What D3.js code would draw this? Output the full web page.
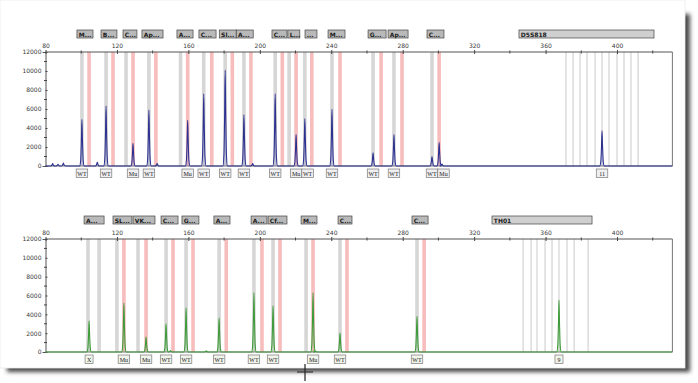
<!DOCTYPE html>
<html>
<head>
<meta charset="utf-8">
<script src="https://cdn.jsdelivr.net/npm/d3@7"></script>
<style>
  body { margin: 0; background: #fff; }
  svg { display: block; }
</style>
</head>
<body>
<svg id="chart"></svg>
<script>
// ---- data: top panel (blue dye) ----
const topGrayBins = [100.4, 113.9, 125.1, 137.9, 155.6, 168.6, 180.6, 191.1, 208.6, 216.4, 225.2, 240.4, 263.4, 275.1, 296.4];
const topPinkBins = [104.4, 117.8, 129.0, 141.8, 159.6, 173.1, 184.6, 195.0, 212.6, 220.3, 229.1, 244.9, 267.9, 279.6, 300.4];
const topLadder = [371.4, 375.4, 379.3, 383.2, 387.7, 391.6, 395.5, 400.0, 403.9, 407.8, 411.8];
const topPeakPos = [100.4, 113.9, 129.0, 137.9, 159.6, 168.6, 180.6, 191.1, 208.6, 220.3, 225.2, 240.4, 263.4, 275.1, 296.4, 300.4, 391.6];
const topPeakHeight = [4900, 6300, 2400, 5900, 4800, 7600, 10100, 5400, 7600, 3300, 5000, 6000, 1400, 3300, 1000, 2500, 3700];
const topPeakLabel = ["WT", "WT", "Mu", "WT", "Mu", "WT", "WT", "WT", "WT", "Mu", "WT", "WT", "WT", "WT", "WT", "Mu", "11"];
const topNoisePos = [84, 87, 90, 109, 142.5, 196, 302];
const topNoiseHeight = [250, 180, 300, 400, 250, 250, 200];
const topHeadStart = [97.6, 111.1, 123.4, 134.0, 153.6, 165.9, 177.3, 186.8, 206.8, 215.7, 225.3, 238.2, 260.6, 271.8, 293.6, 345.1];
const topHeadEnd = [106.6, 120.0, 131.2, 145.8, 162.6, 175.5, 186.8, 196.3, 215.2, 222.4, 232.0, 247.7, 270.7, 283.0, 303.1, 420.7];
const topHeadText = ["M...", "B...", "C...", "Ap...", "A...", "C...", "Sl...", "A...", "C...", "L...", "...", "M...", "G...", "Ap...", "C...", "D5S818"];

// ---- data: bottom panel (green dye) ----
const botGrayBins = [103.8, 110.0, 120.0, 131.8, 147.5, 158.7, 177.2, 196.7, 207.4, 225.9, 244.9, 288.0];
const botPinkBins = [123.9, 136.3, 151.4, 162.6, 181.2, 201.2, 211.3, 229.8, 248.8, 292.0];
const botLadder = [347.4, 351.9, 355.2, 359.7, 363.6, 367.5, 372.0, 376.0, 383.8];
const botPeakPos = [104.4, 123.9, 136.3, 147.5, 158.7, 177.2, 196.7, 207.4, 229.8, 244.9, 288.0, 367.5];
const botPeakHeight = [3300, 5200, 1600, 3000, 4700, 3600, 6300, 4900, 6300, 2000, 3800, 5500];
const botPeakLabel = ["X", "Mu", "Mu", "WT", "WT", "WT", "WT", "WT", "Mu", "WT", "WT", "9"];
const botNoisePos = [150, 170, 231];
const botNoiseHeight = [150, 120, 150];
const botHeadStart = [101.6, 117.8, 129.0, 144.7, 156.4, 174.3, 195.1, 204.6, 223.1, 243.8, 285.2, 330.0];
const botHeadEnd = [112.8, 128.4, 141.3, 154.2, 165.9, 183.3, 204.0, 215.2, 232.0, 251.6, 294.2, 386.0];
const botHeadText = ["A...", "SL...", "VK...", "C...", "G...", "A...", "A...", "Cf...", "M...", "C...", "C...", "TH01"];

const xTicks = [80, 120, 160, 200, 240, 280, 320, 360, 400];
const yTicks = [0, 2000, 4000, 6000, 8000, 10000, 12000];

const W = 698, H = 383;
const svg = d3.select("#chart").attr("width", W).attr("height", H);

// paper + drop shadow
const defs = svg.append("defs");
defs.append("filter").attr("id", "shadow").attr("x", "-5%").attr("y", "-5%").attr("width", "110%").attr("height", "110%")
  .append("feGaussianBlur").attr("stdDeviation", 2.2);
svg.append("rect").attr("width", W).attr("height", H).attr("fill", "#fff");
svg.append("rect").attr("x", 7).attr("y", 14).attr("width", 683).attr("height", 358)
  .attr("fill", "#4a4a4a").attr("filter", "url(#shadow)");
svg.append("rect").attr("x", 0).attr("y", 0).attr("width", 685).attr("height", 368)
  .attr("fill", "#fff").attr("stroke", "#ececec").attr("stroke-width", 0.8);

const x = d3.scaleLinear().domain([80, 431]).range([45.5, 672.4]);
const FONT = "DejaVu Sans, sans-serif";

function drawPanel(opt) {
  const y = d3.scaleLinear().domain([0, 12000]).range([opt.y0, opt.y1]);
  const g = svg.append("g");
  const bw = 3.6;

  // bins
  g.selectAll(".gbin").data(opt.gray).enter().append("rect")
    .attr("x", d => x(d) - bw / 2).attr("y", opt.y1).attr("width", bw).attr("height", opt.y0 - opt.y1)
    .attr("fill", "#d6d6d6");
  g.selectAll(".pbin").data(opt.pink).enter().append("rect")
    .attr("x", d => x(d) - bw / 2).attr("y", opt.y1).attr("width", bw).attr("height", opt.y0 - opt.y1)
    .attr("fill", "#f7bcbc");
  g.selectAll(".ladder").data(opt.ladder).enter().append("line")
    .attr("x1", d => x(d)).attr("x2", d => x(d)).attr("y1", opt.y1).attr("y2", opt.y0)
    .attr("stroke", "#d9d9d9").attr("stroke-width", 1.4);

  // header boxes
  opt.headStart.forEach((s, i) => {
    const wide = !opt.headText[i].endsWith("...");
    g.append("rect").attr("x", x(s)).attr("y", opt.hy).attr("width", x(opt.headEnd[i]) - x(s)).attr("height", 8)
      .attr("fill", wide ? "#cfcfcf" : "#b9b9b9").attr("stroke", "#444").attr("stroke-width", 0.7);
    g.append("text").attr("x", x(s) + 1.8).attr("y", opt.hy + 6.6)
      .attr("font-family", FONT).attr("font-size", 6).attr("font-weight", "bold")
      .attr("fill", "#1a1a1a").text(opt.headText[i]);
  });

  // top axis
  const ax = g.append("g").attr("transform", `translate(0,${opt.y1})`)
    .call(d3.axisTop(x).tickValues(xTicks).tickSize(3).tickFormat(d3.format("d")));
  ax.select(".domain").attr("stroke", "#555").attr("d", `M${x(80)},0H${x(431)}`);
  ax.selectAll(".tick line").attr("stroke", "#444").attr("y2", 2).attr("y1", -2);
  ax.selectAll("text").attr("font-family", FONT).attr("font-size", 6).attr("fill", "#3a3a3a").attr("y", -4);
  g.selectAll(".minor").data(d3.range(100, 431, 40)).enter().append("line")
    .attr("x1", d => x(d)).attr("x2", d => x(d)).attr("y1", opt.y1 - 1.5).attr("y2", opt.y1 + 1.5)
    .attr("stroke", "#444");

  // left axis
  const ay = g.append("g").attr("transform", `translate(${x(80)},0)`)
    .call(d3.axisLeft(y).tickValues(yTicks).tickSize(3).tickFormat(d3.format("d")));
  ay.select(".domain").attr("stroke", "#555");
  ay.selectAll(".tick line").attr("stroke", "#444").attr("x2", 2);
  ay.selectAll("text").attr("font-family", FONT).attr("font-size", 6).attr("fill", "#3a3a3a").attr("x", -4);
  g.selectAll(".yminor").data(d3.range(1000, 12000, 2000)).enter().append("line")
    .attr("x1", x(80) - 1.5).attr("x2", x(80) + 1.5).attr("y1", d => y(d)).attr("y2", d => y(d))
    .attr("stroke", "#444");

  // frame right + bottom
  g.append("path").attr("d", `M${x(431)},${opt.y1}V${opt.y0}H${x(80)}`)
    .attr("fill", "none").attr("stroke", "#666").attr("stroke-width", 0.9);

  // trace: baseline plus a spike at every peak
  const spikes = opt.peakPos.map((p, i) => ({ p, h: opt.peakHeight[i] }))
    .concat(opt.noisePos.map((p, i) => ({ p, h: opt.noiseHeight[i] })))
    .sort((a, b) => a.p - b.p);
  const pts = [[80, 0]];
  const off = [-1.3, -0.7, -0.3, 0, 0.3, 0.7, 1.3];
  const frac = [0, 0.12, 0.55, 1, 0.55, 0.12, 0];
  spikes.forEach(s => off.forEach((o, k) => pts.push([s.p + o, s.h * frac[k]])));
  pts.push([431, 0]);
  g.append("path").datum(pts).attr("d", d3.line().x(d => x(d[0])).y(d => y(d[1])).curve(d3.curveMonotoneX))
    .attr("fill", opt.fill).attr("stroke", opt.color).attr("stroke-width", 1.1);

  // peak label boxes, pushed right so neighbours abut instead of overlapping
  let lastRight = -Infinity;
  opt.peakPos.forEach((p, i) => {
    const t = opt.peakLabel[i];
    const w = t.length > 1 ? 11.5 : 8;
    let left = x(p) - w / 2;
    if (left < lastRight) left = lastRight;
    lastRight = left + w;
    g.append("rect").attr("x", left).attr("y", opt.y0 + 3).attr("width", w).attr("height", 8.5)
      .attr("fill", opt.labelFill).attr("stroke", "#7a7a7a").attr("stroke-width", 0.7);
    g.append("text").attr("x", left + w / 2).attr("y", opt.y0 + 9.6).attr("text-anchor", "middle")
      .attr("font-family", "Liberation Serif, serif").attr("font-size", 6).attr("fill", "#222").text(t);
  });
}

drawPanel({
  y0: 166, y1: 52, hy: 30,
  gray: topGrayBins, pink: topPinkBins, ladder: topLadder,
  peakPos: topPeakPos, peakHeight: topPeakHeight, peakLabel: topPeakLabel,
  noisePos: topNoisePos, noiseHeight: topNoiseHeight,
  headStart: topHeadStart, headEnd: topHeadEnd, headText: topHeadText,
  color: "#2d3290", fill: "rgba(120,125,200,0.25)", labelFill: "#efeff2"
});

drawPanel({
  y0: 352, y1: 239, hy: 216,
  gray: botGrayBins, pink: botPinkBins, ladder: botLadder,
  peakPos: botPeakPos, peakHeight: botPeakHeight, peakLabel: botPeakLabel,
  noisePos: botNoisePos, noiseHeight: botNoiseHeight,
  headStart: botHeadStart, headEnd: botHeadEnd, headText: botHeadText,
  color: "#3f9a3a", fill: "rgba(120,190,110,0.25)", labelFill: "#f1f4ea"
});

// mouse cursor crosshair
svg.append("path").attr("d", "M305,364V381M297,372H313").attr("stroke", "#222").attr("stroke-width", 1.2);
</script>
</body>
</html>
